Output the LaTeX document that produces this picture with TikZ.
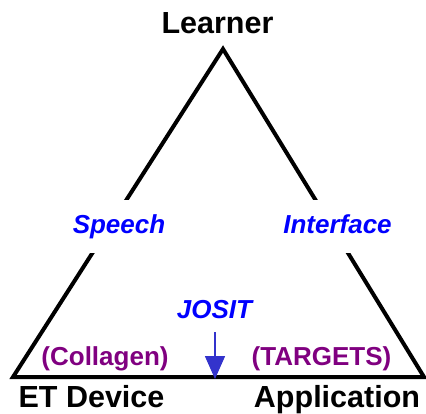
\documentclass[tikz,border=0pt]{standalone}
\usepackage{fontspec}
\setmainfont{Liberation Sans}
\usetikzlibrary{arrows.meta}
\definecolor{roleblue}{RGB}{0,0,255}
\definecolor{arrowblue}{RGB}{51,51,204}
\definecolor{toolpurple}{RGB}{128,0,128}

\begin{document}
\begin{tikzpicture}[x=1pt,y=-1pt,
    corner/.style={font=\fontsize{30.5}{34}\selectfont\bfseries,inner sep=0pt,anchor=base},
    role/.style={font=\fontsize{26}{30}\selectfont\bfseries\itshape,text=roleblue},
    tool/.style={font=\fontsize{26}{30}\selectfont\bfseries,text=toolpurple,inner sep=0pt,anchor=base}]
  \useasboundingbox (0,0) rectangle (426,413);
  % the three corners
  \coordinate (apex) at (223,49);
  \coordinate (lcorner) at (13,377);
  \coordinate (rcorner) at (424,377);
  \draw[line width=4pt,miter limit=10] (apex) -- (rcorner) -- (lcorner) -- cycle;
  % corner labels
  \node[corner] (learner) at (217.5,33) {Learner};
  \node[corner] (etdev) at (91.5,407) {ET Device};
  \node[corner] (appl) at (337,407) {Application};
  % labels on the sides, white box cuts the edge
  \node[role,fill=white,text height=19pt,text depth=5pt,inner xsep=4pt,inner ysep=14.5pt]
    (speech) at (119,226) {Speech};
  \node[role,fill=white,text height=19pt,text depth=5pt,inner xsep=4pt,inner ysep=14.5pt]
    (iface) at (337.5,226) {Interface};
  \node[role,inner sep=0pt,anchor=base] (josit) at (214.5,318) {JOSIT};
  \node[tool] (collagen) at (105,365) {(Collagen)};
  \node[tool] (targets) at (321.5,365) {(TARGETS)};
  % JOSIT points down onto the base
  \coordinate (jtop) at (215,332);
  \coordinate (jtip) at (215,379);
  \draw[arrowblue,line width=1.5pt,-{Triangle[width=20pt,length=23pt]}] (jtop) -- (jtip);
\end{tikzpicture}
\end{document}
